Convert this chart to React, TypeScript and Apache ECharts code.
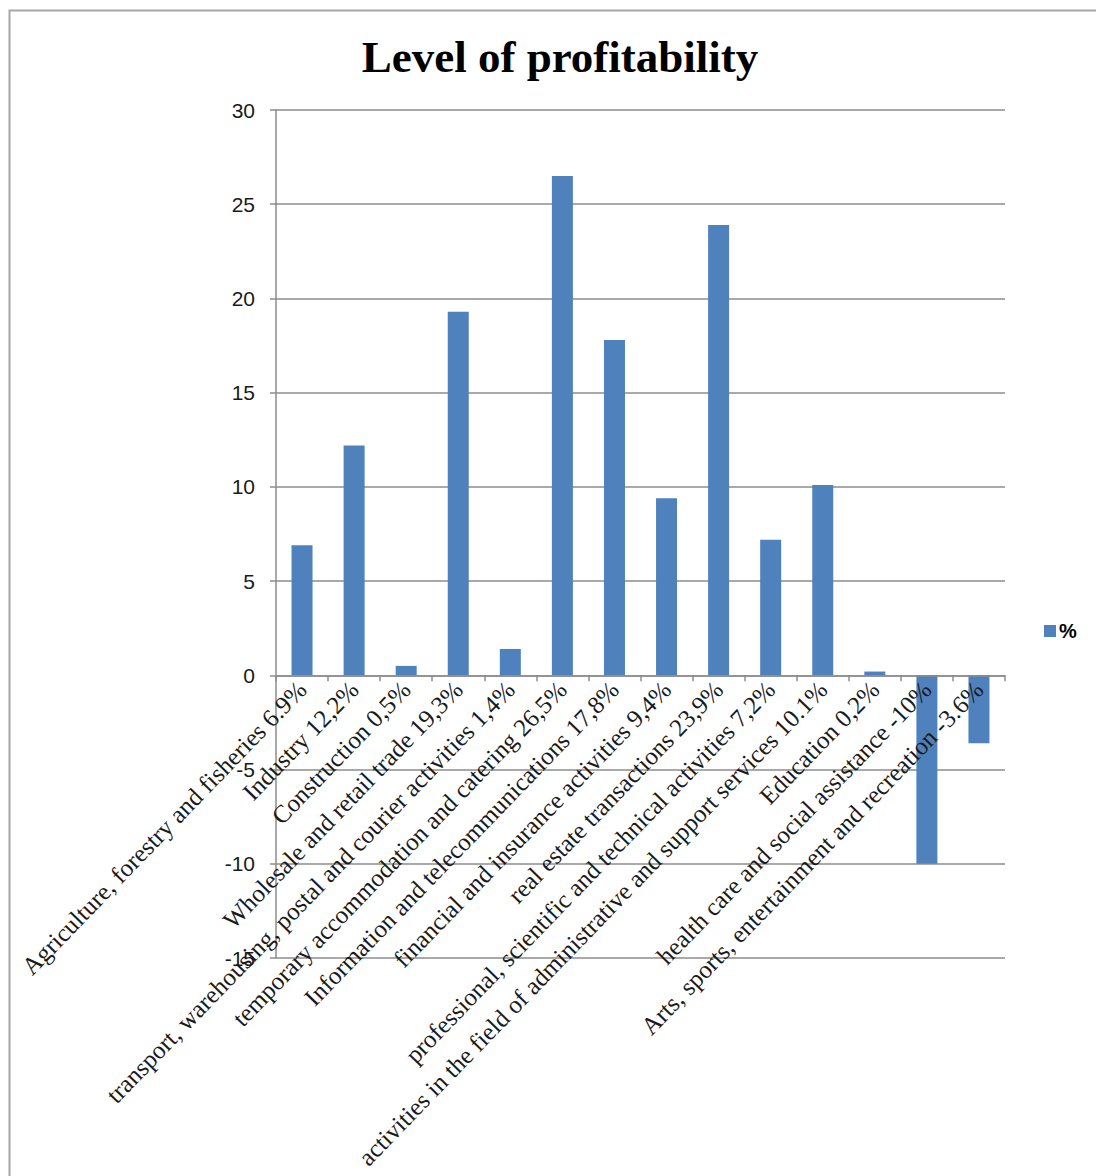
import React, { useEffect, useRef } from "react";
import * as echarts from "echarts";

// Profitability by branch of activity, in per cent
const categories: string[] = [
  "Agriculture, forestry and fisheries 6.9%",
  "Industry 12,2%",
  "Construction 0,5%",
  "Wholesale and retail trade 19,3%",
  "transport, warehousing, postal and courier activities 1,4%",
  "temporary accommodation and catering 26,5%",
  "Information and telecommunications 17,8%",
  "financial and insurance activities 9,4%",
  "real estate transactions 23,9%",
  "professional, scientific and technical activities 7,2%",
  "activities in the field of administrative and support services 10.1%",
  "Education 0,2%",
  "health care and social assistance -10%",
  "Arts, sports, entertainment and recreation -3.6%",
];

const values: number[] = [6.9, 12.2, 0.5, 19.3, 1.4, 26.5, 17.8, 9.4, 23.9, 7.2, 10.1, 0.2, -10, -3.6];

const seriesName = "%";
const titleText = "Level of profitability";

const yMin = -15;
const yMax = 30;

const axisGray = "#8c8c8c";
const barBlue = "#4f81bd";

const gridTop = 110;
const gridBottom = 218;
const chartHeight = 1176;

export default function App() {
  const ref = useRef<HTMLDivElement>(null);

  useEffect(() => {
    if (!ref.current) return;
    const chart = echarts.init(ref.current, undefined, { renderer: "svg" });
    // The category axis sits on the zero line: shift it up from the grid bottom
    const plotHeight = chartHeight - gridTop - gridBottom;
    const zeroFromBottom = (plotHeight * (0 - yMin)) / (yMax - yMin);
    chart.setOption({
      animation: false,
      backgroundColor: "#ffffff",
      title: {
        text: titleText,
        left: 555,
        textAlign: "center",
        top: 29,
        textStyle: {
          fontFamily: "Liberation Serif",
          fontWeight: "bold",
          fontSize: 45,
          color: "#000000",
        },
      },
      legend: {
        data: [seriesName],
        left: 1039,
        top: 616,
        icon: "rect",
        itemWidth: 12,
        itemHeight: 12,
        itemGap: 6,
        textStyle: {
          fontFamily: "Liberation Sans",
          fontSize: 20,
          fontWeight: "bold",
          color: "#000000",
          padding: [0, 0, 0, -2],
        },
      },
      grid: {
        left: 276,
        right: 91,
        top: gridTop,
        bottom: gridBottom,
        containLabel: false,
        outerBoundsMode: "none",
      },
      xAxis: {
        type: "category",
        data: categories,
        z: 5,
        position: "bottom",
        offset: -zeroFromBottom,
        axisLine: { onZero: false, lineStyle: { color: axisGray, width: 1.5 } },
        axisTick: { show: true, length: 6, lineStyle: { color: axisGray, width: 1.5 } },
        axisLabel: {
          interval: 0,
          rotate: 46,
          margin: 10,
          fontFamily: "Liberation Serif",
          fontSize: 25,
          color: "#1a1a1a",
        },
        splitLine: { show: false },
      },
      yAxis: {
        type: "value",
        min: yMin,
        max: yMax,
        interval: 5,
        axisLine: { show: true, lineStyle: { color: axisGray, width: 1.5 } },
        axisTick: { show: true, length: 6, lineStyle: { color: axisGray, width: 1.5 } },
        axisLabel: {
          margin: 21,
          fontFamily: "Liberation Sans",
          fontSize: 21,
          color: "#1a1a1a",
        },
        splitLine: { show: true, lineStyle: { color: axisGray, width: 1.5 } },
      },
      series: [
        {
          name: seriesName,
          type: "bar",
          data: values,
          barWidth: 21,
          itemStyle: { color: barBlue },
        },
      ],
      graphic: [
        {
          type: "rect",
          shape: { x: 9.5, y: 10.5, width: 1200, height: 1300 },
          style: { fill: "none", stroke: "#a6a6a6", lineWidth: 2 },
          silent: true,
        },
      ],
    });
    return () => chart.dispose();
  }, []);

  return (
    <div style={{ position: "fixed", left: 0, top: 0, width: 1096, height: 1176, background: "#fff" }}>
      <div ref={ref} style={{ width: 1096, height: 1176 }} />
    </div>
  );
}
